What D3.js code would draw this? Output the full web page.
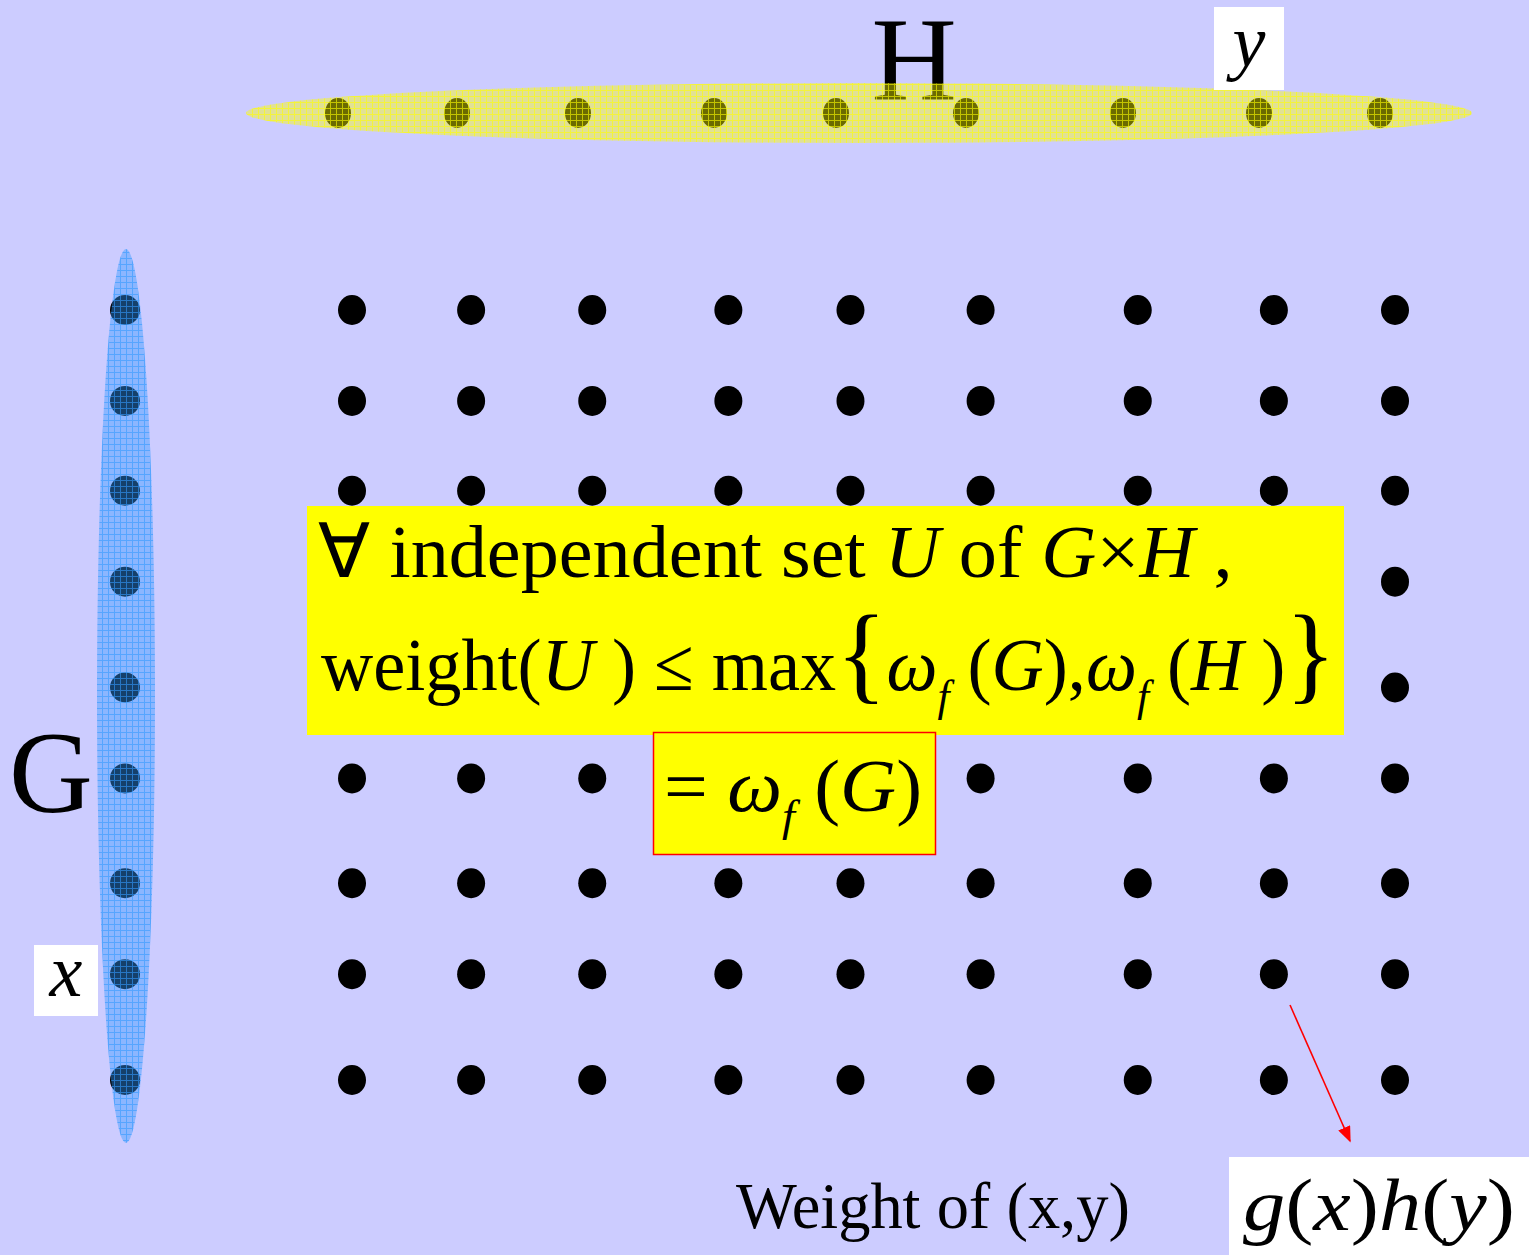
<!DOCTYPE html>
<html>
<head>
<meta charset="utf-8">
<script src="https://cdn.jsdelivr.net/npm/d3@7"></script>
<style>
  body { margin: 0; background: #ccccff; }
  svg { display: block; }
  text { font-family: "Liberation Serif", "Times New Roman", serif; fill: #000; }
</style>
</head>
<body>
<script>
// vertex positions of the two factor graphs (relative units)
var gVertices = [0, 91, 181, 272, 378, 469, 574, 665, 771];     // G, top to bottom
var hVertices = [0, 119, 240, 376, 498, 628, 785, 921, 1042];   // H, left to right
var gLabel = "G", hLabel = "H";
var bottomLabel = "Weight of (x,y)";

var W = 1529, H = 1255;

var svg = d3.select("body").append("svg")
    .attr("width", W)
    .attr("height", H);

svg.append("rect").attr("width", W).attr("height", H).attr("fill", "#ccccff");

// scales
var yG   = d3.scaleLinear().domain([0, 771]).range([310, 1080]);
var xH   = d3.scaleLinear().domain([0, 1042]).range([338, 1380]);
var xGrid = d3.scaleLinear().domain([0, 1042]).range([352, 1395]);

var defs = svg.append("defs");
defs.append("marker")
    .attr("id", "arrow")
    .attr("viewBox", "0 0 10 10")
    .attr("refX", 9).attr("refY", 5)
    .attr("markerWidth", 16).attr("markerHeight", 13)
    .attr("markerUnits", "userSpaceOnUse")
    .attr("orient", "auto")
    .attr("preserveAspectRatio", "none")
  .append("path")
    .attr("d", "M0,0 L10,5 L0,10 z")
    .attr("fill", "#ff0000");

function hatch(id, col) {
  var p = defs.append("pattern").attr("id", id)
      .attr("width", 6).attr("height", 6)
      .attr("patternUnits", "userSpaceOnUse");
  p.append("rect").attr("width", 6).attr("height", 6).attr("fill", col).attr("opacity", 0.42);
  p.append("path").attr("d", "M0,0.5H6M0.5,0V6")
      .attr("stroke", col).attr("stroke-width", 1).attr("opacity", 0.6);
}
hatch("hatchBlue", "#3399ff");
hatch("hatchYellow", "#ffff00");

// labels of the factor graphs (under the translucent ellipses)
svg.append("text").attr("x", 914).attr("y", 99)
    .attr("text-anchor", "middle").attr("font-size", 118).text(hLabel);
svg.append("text").attr("x", 51).attr("y", 812)
    .attr("text-anchor", "middle").attr("font-size", 116).text(gLabel);

// vertices of H
svg.append("g").selectAll("ellipse")
  .data(hVertices).enter().append("ellipse")
    .attr("cx", d => xH(d)).attr("cy", 113)
    .attr("rx", 13).attr("ry", 15).attr("fill", "#000");

// vertices of G
svg.append("g").selectAll("ellipse")
  .data(gVertices).enter().append("ellipse")
    .attr("cx", 125).attr("cy", d => yG(d))
    .attr("rx", 15).attr("ry", 15).attr("fill", "#000");

// ellipses around G and H
svg.append("ellipse")
    .attr("cx", 859).attr("cy", 113).attr("rx", 613).attr("ry", 30)
    .attr("fill", "url(#hatchYellow)");
svg.append("ellipse")
    .attr("cx", 126).attr("cy", 696).attr("rx", 29).attr("ry", 447)
    .attr("fill", "url(#hatchBlue)");

// product grid G x H
var cells = [];
gVertices.forEach(function(gy) { hVertices.forEach(function(hx) { cells.push({gy: gy, hx: hx}); }); });
svg.append("g").selectAll("ellipse")
  .data(cells).enter().append("ellipse")
    .attr("cx", d => xGrid(d.hx)).attr("cy", d => yG(d.gy))
    .attr("rx", 14).attr("ry", 15).attr("fill", "#000");

// white label boxes x and y
svg.append("rect").attr("x", 34).attr("y", 945).attr("width", 64).attr("height", 71).attr("fill", "#fff");
svg.append("text").attr("x", 66).attr("y", 996).attr("text-anchor", "middle")
    .attr("font-size", 74).attr("font-style", "italic").text("x");
svg.append("rect").attr("x", 1214).attr("y", 7).attr("width", 70).attr("height", 83).attr("fill", "#fff");
svg.append("text").attr("x", 1249).attr("y", 66).attr("text-anchor", "middle")
    .attr("font-size", 74).attr("font-style", "italic").text("y");

// rich text helper: segments [text, style] ; style: i italic, s subscript, b big
function richText(x, y, size, segs, targetW) {
  var t = svg.append("text").attr("x", x).attr("y", y).attr("font-size", size);
  var shifted = 0;
  segs.forEach(function(s) {
    var sp = t.append("tspan").text(s[0]);
    var st = s[1] || "";
    if (st.indexOf("i") >= 0) sp.attr("font-style", "italic");
    var dy = 0;
    if (st.indexOf("s") >= 0) {
      sp.attr("font-size", size * 0.6);
      dy = size * 0.28 - shifted; shifted = size * 0.28;
    } else if (shifted) {
      dy = -shifted; shifted = 0;
    }
    if (dy) sp.attr("dy", dy);
    if (st.indexOf("b") >= 0) sp.attr("font-size", size * 1.45).attr("font-style", "normal");
  });
  if (targetW) {
    var w = t.node().getBBox().width;
    var k = targetW / w;
    t.attr("transform", "translate(" + x + ",0) scale(" + k + ",1) translate(" + (-x) + ",0)");
  }
  return t;
}

// statement box
svg.append("rect").attr("x", 307).attr("y", 506).attr("width", 1037).attr("height", 229).attr("fill", "#ffff00");
richText(318, 577, 75, [
  ["\u2200 independent set "], ["U", "i"], ["  of  "], ["G", "i"], ["\u00d7"], ["H", "i"], [" ,"]
], 914);
richText(321, 690, 75, [
  ["weight("], ["U", "i"], [" ) \u2264 max"], ["{", "b"], ["\u03c9", "i"], ["f", "is"], [" ("], ["G", "i"],
  ["),"], ["\u03c9", "i"], ["f", "is"], [" ("], ["H", "i"], [" )"], ["}", "b"]
], 1015);

// equality box
svg.append("rect").attr("x", 653.5).attr("y", 732.5).attr("width", 282).attr("height", 122)
    .attr("fill", "#ffff00").attr("stroke", "#ff0000").attr("stroke-width", 1.5);
richText(664, 811, 73, [
  ["= "], ["\u03c9", "i"], ["f", "is"], [" ("], ["G", "i"], [")"]
], 258);

// arrow to weight
svg.append("line")
    .attr("x1", 1290).attr("y1", 1005).attr("x2", 1350).attr("y2", 1141)
    .attr("stroke", "#ff0000").attr("stroke-width", 1.6)
    .attr("marker-end", "url(#arrow)");

richText(736, 1228, 65, [[bottomLabel]], 394);

svg.append("rect").attr("x", 1229).attr("y", 1157).attr("width", 300).attr("height", 98).attr("fill", "#fff");
richText(1243, 1230, 74, [
  ["g", "i"], ["("], ["x", "i"], [")"], ["h", "i"], ["("], ["y", "i"], [")"]
], 272);
</script>
</body>
</html>
